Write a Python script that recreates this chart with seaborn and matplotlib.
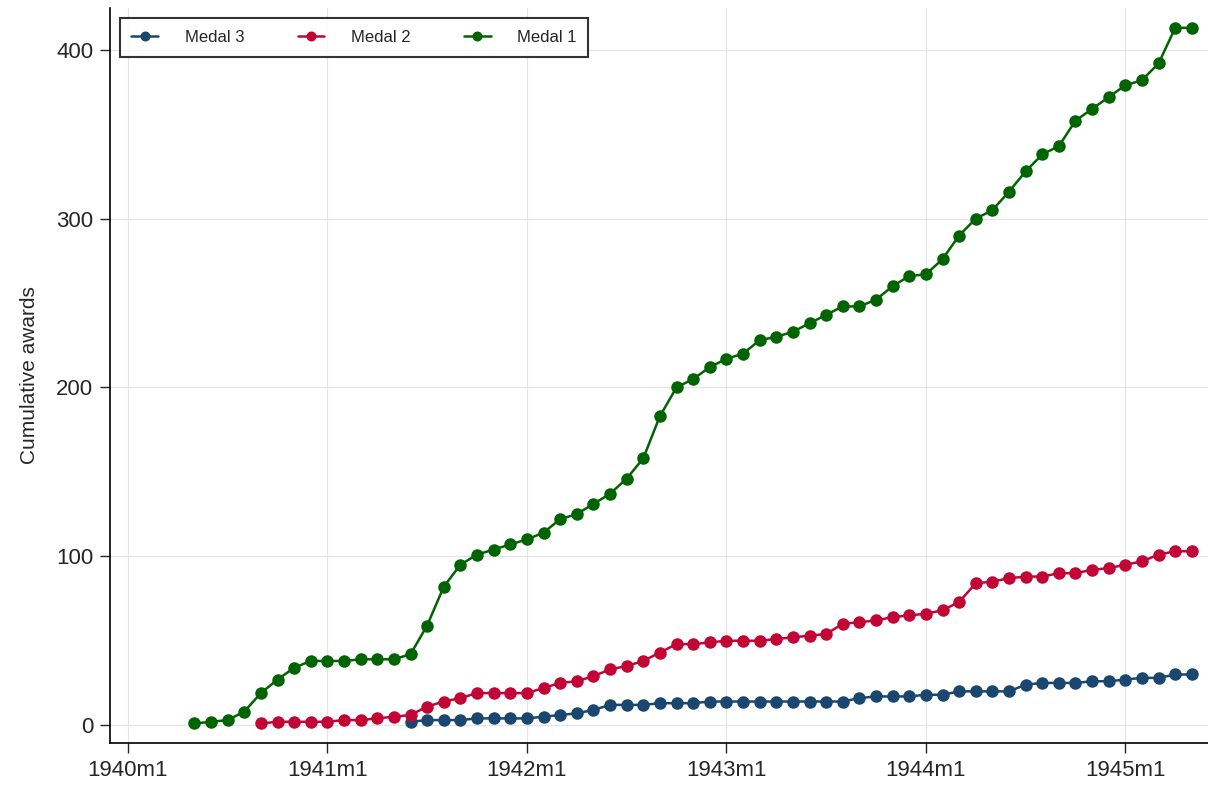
import numpy as np
import pandas as pd
import matplotlib
matplotlib.use("Agg")
import matplotlib.pyplot as plt
import seaborn as sns

# months counted from 1940m1 = 0
medal1 = [1, 2, 3, 8, 19, 27, 34, 38,
          38, 38, 39, 39, 39, 42, 59, 82, 95, 101, 104, 107,
          110, 114, 122, 125, 131, 137, 146, 158, 183, 200, 205, 212,
          217, 220, 228, 230, 233, 238, 243, 248, 248, 252, 260, 266,
          267, 276, 290, 300, 305, 316, 328, 338, 343, 358, 365, 372,
          379, 382, 392, 413, 413]
medal2 = [1, 2, 2, 2,
          2, 3, 3, 4, 5, 6, 11, 14, 16, 19, 19, 19,
          19, 22, 25, 26, 29, 33, 35, 38, 43, 48, 48, 49,
          50, 50, 50, 51, 52, 53, 54, 60, 61, 62, 64, 65,
          66, 68, 73, 84, 85, 87, 88, 88, 90, 90, 92, 93,
          95, 97, 101, 103, 103]
medal3 = [2, 3, 3, 3, 4, 4, 4,
          4, 5, 6, 7, 9, 12, 12, 12, 13, 13, 13, 14,
          14, 14, 14, 14, 14, 14, 14, 14, 16, 17, 17, 17,
          18, 18, 20, 20, 20, 20, 24, 25, 25, 25, 26, 26,
          27, 28, 28, 30, 30]
start1, start2, start3 = 4, 8, 17
tick_labels = ["1940m1", "1941m1", "1942m1", "1943m1", "1944m1", "1945m1"]

rows = []
for name, vals, s in [("Medal 3", medal3, start3), ("Medal 2", medal2, start2), ("Medal 1", medal1, start1)]:
    for i, v in enumerate(vals):
        rows.append({"month": s + i, "awards": v, "medal": name})
df = pd.DataFrame(rows)

sns.set_style("white")
plt.rcParams["font.family"] = ["Liberation Sans", "DejaVu Sans"]
fig, ax = plt.subplots(figsize=(12.08, 7.93), dpi=100)
palette = {"Medal 3": "#1a476f", "Medal 2": "#c10534", "Medal 1": "#006400"}
sns.lineplot(data=df, x="month", y="awards", hue="medal", palette=palette,
             marker="o", markersize=9, markeredgewidth=0, linewidth=1.8, ax=ax)

ax.set_xlim(-1.08, 64.97)
ax.set_ylim(-10.6, 424.8)
ax.set_xticks([0, 12, 24, 36, 48, 60])
ax.set_xticklabels(tick_labels)
ax.set_yticks([0, 100, 200, 300, 400])
ax.tick_params(axis="both", labelsize=16, direction="out", length=7, width=1,
               left=True, bottom=True, pad=5)
ax.grid(True, color="#e4e4e4", linewidth=0.8)
for s in ["top", "right"]:
    ax.spines[s].set_visible(False)
for s in ["left", "bottom"]:
    ax.spines[s].set_color("black")
    ax.spines[s].set_linewidth(1.2)
ax.set_xlabel("")
ax.set_ylabel("Cumulative awards", fontsize=15, labelpad=12)
leg = ax.legend(loc="upper left", ncol=3, fontsize=12, frameon=True, fancybox=False,
                edgecolor="black", columnspacing=3.2, handlelength=1.6, handletextpad=1.6,
                markerscale=0.8, borderpad=0.7, borderaxespad=0,
                bbox_to_anchor=(0.009, 0.986))
leg.get_frame().set_linewidth(1.5)
fig.subplots_adjust(left=0.091, right=1.0, top=0.99, bottom=0.063)
fig.savefig("out.png", dpi=100)
